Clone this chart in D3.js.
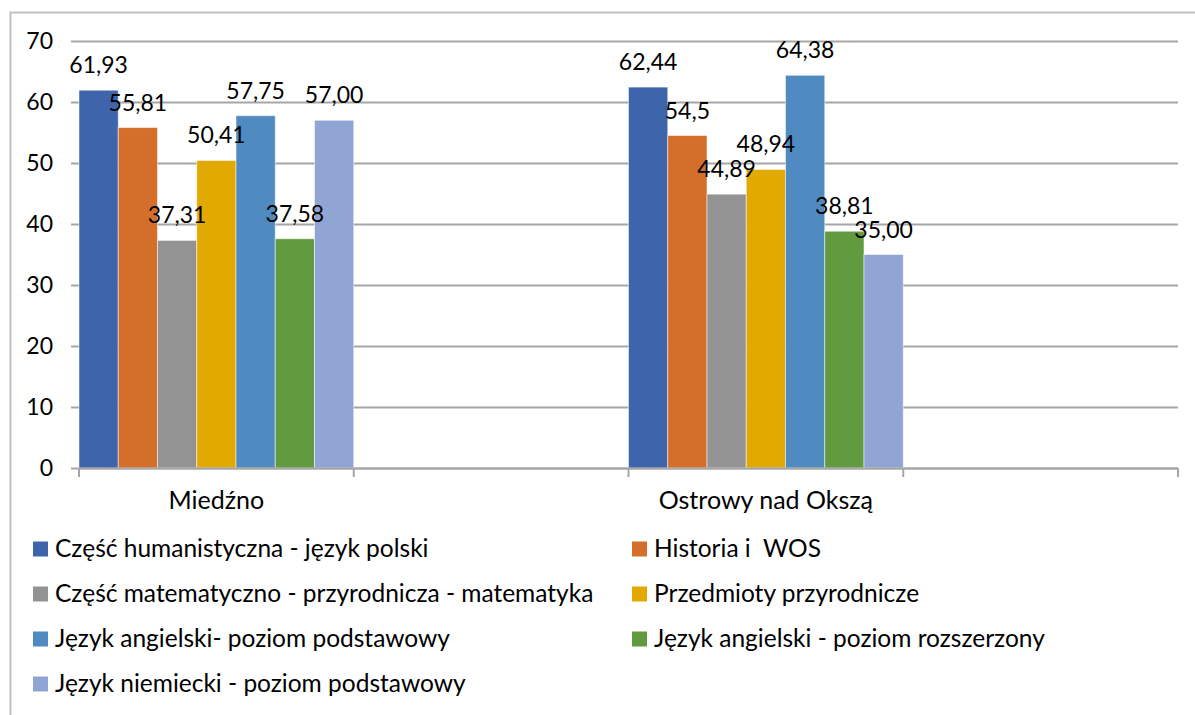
<!DOCTYPE html>
<html>
<head>
<meta charset="utf-8">
<script src="https://cdn.jsdelivr.net/npm/d3@7"></script>
<style>
  body { margin:0; background:#fff; }
  text { font-family: Lato, "Open Sans", sans-serif; fill:#000; }
</style>
</head>
<body>
<div id="chart_container"></div>
<script>
// Category slots (the 2nd and 4th are empty in the source chart).
var category_array = ["Miedźno", "", "Ostrowy nad Okszą", " "];
var series_name_array = [
  "Część humanistyczna - język polski",
  "Historia i  WOS",
  "Część matematyczno - przyrodnicza - matematyka",
  "Przedmioty przyrodnicze",
  "Język angielski- poziom podstawowy",
  "Język angielski - poziom rozszerzony",
  "Język niemiecki - poziom podstawowy"
];
var series_color_array = ["#3E64AC", "#D36F2B", "#939393", "#E2AA00", "#4F8BC0", "#629B3F", "#91A5D5"];
// Values per series: [Miedźno, Ostrowy nad Okszą]
var value_miedzno_array  = [61.93, 55.81, 37.31, 50.41, 57.75, 37.58, 57.00];
var value_ostrowy_array  = [62.44, 54.5, 44.89, 48.94, 64.38, 38.81, 35.00];
var label_miedzno_array  = ["61,93", "55,81", "37,31", "50,41", "57,75", "37,58", "57,00"];
var label_ostrowy_array  = ["62,44", "54,5", "44,89", "48,94", "64,38", "38,81", "35,00"];
var y_tick_array = [0, 10, 20, 30, 40, 50, 60, 70];

var dimension = { width:1195, height:715 };
var plot = { left:79, right:1178, top:41, bottom:468 };

var svg = d3.select("#chart_container").append("svg")
  .attr("width", dimension.width)
  .attr("height", dimension.height);

// chart area border
svg.append("path")
  .attr("d", "M10.5," + dimension.height + "V12.5H" + dimension.width)
  .style("fill", "none")
  .style("stroke", "#BFBFBF")
  .style("stroke-width", 2);

var scale_x = d3.scaleBand().domain(category_array).range([plot.left, plot.right]).padding(0);
var scale_y = d3.scaleLinear().domain([0, 70]).range([plot.bottom, plot.top]);
var scale_series = d3.scaleBand().domain(series_name_array).range([0, scale_x.bandwidth()]).padding(0);

// gridlines + y axis
var axis_y = d3.axisLeft(scale_y).tickValues(y_tick_array).tickSize(plot.right - plot.left + 8).tickPadding(18);
var g_y = svg.append("g")
  .attr("transform", "translate(" + plot.right + ",0)")
  .call(axis_y);
g_y.select(".domain").remove();
g_y.selectAll("line").style("stroke", "#A6A6A6").style("stroke-width", 2);
g_y.selectAll("text").style("font-size", "23px").style("font-family", "Lato, sans-serif");

// bars
var data_array = [];
for (var i = 0; i < series_name_array.length; i ++) {
  data_array.push({ cat:category_array[0], series:series_name_array[i], value:value_miedzno_array[i], label:label_miedzno_array[i], color:series_color_array[i] });
  data_array.push({ cat:category_array[2], series:series_name_array[i], value:value_ostrowy_array[i], label:label_ostrowy_array[i], color:series_color_array[i] });
}

svg.append("g").selectAll("rect").data(data_array).enter().append("rect")
  .attr("x", function (d) { return scale_x(d.cat) + scale_series(d.series); })
  .attr("y", function (d) { return scale_y(d.value); })
  .attr("width", scale_series.bandwidth())
  .attr("height", function (d) { return scale_y(0) - scale_y(d.value); })
  .style("fill", function (d) { return d.color; })
  .style("stroke", "#fff")
  .style("stroke-opacity", 0.5)
  .style("stroke-width", 1);

// x axis
var axis_x = d3.axisBottom(scale_x).tickSize(0).tickPadding(0);
var g_x = svg.append("g")
  .attr("transform", "translate(0," + plot.bottom + ")")
  .call(axis_x);
g_x.select(".domain").style("stroke", "#A6A6A6").style("stroke-width", 2);
g_x.selectAll(".tick text").attr("y", 23).attr("dy", "0.71em").style("font-size", "25px").style("font-family", "Lato, sans-serif");
var tick_x_array = category_array.map(function (c) { return scale_x(c); }).concat([plot.right]);
g_x.selectAll(".sep").data(tick_x_array).enter().append("line")
  .attr("class", "sep")
  .attr("x1", function (d) { return d; }).attr("x2", function (d) { return d; })
  .attr("y1", 0).attr("y2", 9)
  .style("stroke", "#A6A6A6").style("stroke-width", 2);

// data labels
svg.append("g").selectAll("text").data(data_array).enter().append("text")
  .attr("x", function (d) { return scale_x(d.cat) + scale_series(d.series) + scale_series.bandwidth()/2; })
  .attr("y", function (d) { return scale_y(d.value) - 17; })
  .attr("text-anchor", "middle")
  .style("font-size", "23px")
  .text(function (d) { return d.label; });

// legend
var legend_pos_array = [];
for (var k = 0; k < series_name_array.length; k ++) {
  legend_pos_array.push({ x: k % 2 == 0 ? 33 : 632, y: 549 + Math.floor(k/2)*45, name:series_name_array[k], color:series_color_array[k] });
}
var g_legend = svg.append("g").selectAll("g").data(legend_pos_array).enter().append("g")
  .attr("transform", function (d) { return "translate(" + d.x + "," + d.y + ")"; });
g_legend.append("rect")
  .attr("x", 0).attr("y", -7.5).attr("width", 15).attr("height", 15)
  .style("fill", function (d) { return d.color; });
g_legend.append("text")
  .attr("x", 22).attr("y", 8)
  .style("font-size", "24.5px")
  .style("white-space", "pre")
  .text(function (d) { return d.name; });
</script>
</body>
</html>
